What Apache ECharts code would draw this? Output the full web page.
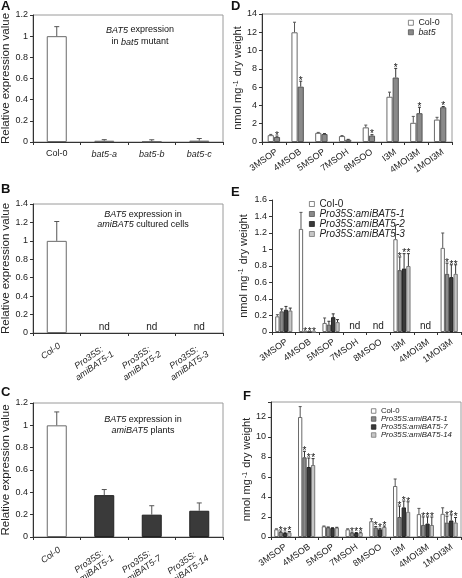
<!DOCTYPE html>
<html><head><meta charset="utf-8">
<script src="https://cdn.jsdelivr.net/npm/echarts@6/dist/echarts.min.js"></script>
<style>html,body{margin:0;padding:0;background:#fff}#c{width:462px;height:578px}</style>
</head><body><div id="c"></div>
<script>
// ---------- DATA ----------
const catsA = ['Col-0', 'bat5-a', 'bat5-b', 'bat5-c'];
const valsA = [1.0, 0.012, 0.006, 0.013];
const errA  = [0.09, 0.01, 0.015, 0.02];

const catsB = ['Col-0', 'Pro35S:\namiBAT5-1', 'Pro35S:\namiBAT5-2', 'Pro35S:\namiBAT5-3'];
const valsB = [1.0, null, null, null];
const errB  = [0.21, 0, 0, 0];
const ndB   = [0, 1, 1, 1];

const catsC = ['Col-0', 'Pro35S:\namiBAT5-1', 'Pro35S:\namiBAT5-7', 'Pro35S:\namiBAT5-14'];
const valsCcol = [1.0, null, null, null];
const valsCami = [null, 0.375, 0.20, 0.235];
const errC  = [0.12, 0.05, 0.08, 0.07];

const gluc = ['3MSOP', '4MSOB', '5MSOP', '7MSOH', '8MSOO', 'I3M', '4MOI3M', '1MOI3M'];

// D
const dCol0    = [0.75, 12.0, 1.0, 0.65, 1.6, 4.95, 2.1, 2.45];
const dCol0Err = [0.08, 1.1, 0.05, 0.05, 0.25, 0.5, 0.7, 0.25];
const dBat5    = [0.55, 6.05, 0.87, 0.25, 0.7, 7.05, 3.15, 3.8];
const dBat5Err = [0.1, 0.6, 0.05, 0.04, 0.1, 1.0, 0.65, 0.08];
const dBat5Star = [1, 1, 0, 0, 1, 1, 1, 1];

// E
const eCol0  = [0.19, 1.25, 0.11, null, null, 1.125, null, 1.02];
const eCol0E = [0.02, 0.2, 0.06, 0, 0, 0.17, 0, 0.18];
const eA1    = [0.25, 0, 0.09, null, null, 0.75, null, 0.705];
const eA1E   = [0.03, 0, 0.04, 0, 0, 0.16, 0, 0.13];
const eA2    = [0.27, 0, 0.18, null, null, 0.77, null, 0.665];
const eA2E   = [0.04, 0, 0.04, 0, 0, 0.18, 0, 0.15];
const eA3    = [0.26, 0, 0.12, null, null, 0.80, null, 0.705];
const eA3E   = [0.03, 0, 0.03, 0, 0, 0.15, 0, 0.11];
const eStar  = [0, 1, 0, 0, 0, 1, 0, 1];
const eNd    = [0, 0, 0, 1, 1, 0, 1, 0];

// F
const fCol0  = [0.77, 12.0, 1.07, 0.77, 1.58, 5.1, 2.29, 2.32];
const fCol0E = [0.05, 1.04, 0.03, 0.05, 0.24, 0.7, 0.57, 0.6];
const fA1    = [0.5, 7.97, 0.97, 0.44, 0.94, 2.0, 1.21, 1.45];
const fA1E   = [0.1, 0.6, 0.03, 0.05, 0.1, 1.1, 0.8, 0.64];
const fA7    = [0.4, 7.0, 0.9, 0.4, 0.77, 2.96, 1.34, 1.65];
const fA7E   = [0.08, 0.9, 0.03, 0.05, 0.1, 0.64, 0.67, 0.57];
const fA14   = [0.47, 7.2, 0.94, 0.44, 1.0, 2.52, 1.2, 1.45];
const fA14E  = [0.08, 0.64, 0.03, 0.05, 0.1, 1.0, 0.8, 0.5];
const fStar  = [1, 1, 0, 1, 1, 1, 1, 1];

// ---------- STYLE ----------
const FONT = '"Liberation Sans", Arial, Helvetica, sans-serif';
const C_WHITE = '#ffffff', C_GRAY = '#8a8a8a', C_DARK = '#3a3a3a', C_LIGHT = '#c6c6c6';
const B_WHITE = '#6a6a6a', B_GRAY = '#555', B_DARK = '#222', B_LIGHT = '#777';

const grids = [
  {left: 33, top: 15, width: 190, height: 127},
  {left: 33, top: 204, width: 190, height: 129},
  {left: 33, top: 403, width: 190, height: 134},
  {left: 262, top: 14, width: 190, height: 128},
  {left: 272, top: 200, width: 189, height: 132},
  {left: 271, top: 402, width: 190, height: 135}
].map((g, i) => Object.assign({show: i !== 4, borderColor: '#9a9a9a', borderWidth: 1,
  backgroundColor: 'transparent', outerBoundsMode: 'none', containLabel: false}, g));

function xAx(gi, data, rotate, italic, margin) {
  const lbl = {interval: 0, rotate: rotate, fontSize: 9, fontFamily: FONT, color: '#222',
    fontStyle: italic ? 'italic' : 'normal', margin: margin, lineHeight: 10};
  if (rotate) {
    lbl.verticalAlign = 'top';
    lbl.formatter = v => v.split('\n').map(s => '{a|' + s + '}').join('\n');
    lbl.rich = {a: {align: 'center', fontSize: 9, fontFamily: FONT, color: '#222',
      fontStyle: italic ? 'italic' : 'normal', lineHeight: 10}};
  }
  return {
    type: 'category', gridIndex: gi, data: data,
    axisLine: {lineStyle: {color: '#333', width: 1}},
    axisTick: {show: true, length: 3, lineStyle: {color: '#333'}},
    axisLabel: lbl
  };
}
function yAx(gi, max, interval, name, nameGap, nameSize, hideOdd) {
  return {
    type: 'value', gridIndex: gi, min: 0, max: max, interval: interval,
    splitLine: {show: false},
    axisLine: {show: true, lineStyle: {color: '#333', width: 1}},
    axisTick: {show: true, length: 3, lineStyle: {color: '#333'}},
    axisLabel: {fontSize: 9, fontFamily: FONT, color: '#222', margin: 5,
      formatter: hideOdd ? (v => (Math.abs(v / interval - Math.round(v / interval)) < 1e-6 ? String(v) : '')) : undefined},
    name: name, nameLocation: 'middle', nameGap: nameGap,
    nameTextStyle: {fontSize: nameSize, fontFamily: FONT, color: '#222',
      rich: {sup: {fontSize: 7, verticalAlign: 'top', fontFamily: FONT, color: '#222', padding: [0, 1, 4, 1]}}}
  };
}
const NMOL = 'nmol mg{sup|-1} dry weight';

function bars(gi, name, vals, fill, border, bw) {
  return {type: 'bar', name: name, xAxisIndex: gi, yAxisIndex: gi, data: vals, barWidth: bw,
    barGap: '0%', itemStyle: {color: fill, borderColor: border, borderWidth: 1},
    emphasis: {disabled: true}, z: 2};
}
function errs(gi, vals, errv, n, idx, bw, color, cap, stars, starSize) {
  return {type: 'custom', xAxisIndex: gi, yAxisIndex: gi, z: 3, silent: true,
    data: vals.map((v, i) => [i, v == null ? NaN : v, errv[i], stars ? stars[i] : 0]),
    renderItem: function (params, api) {
      const i = api.value(0), v = api.value(1), e = api.value(2), s = api.value(3);
      if (isNaN(v)) return null;
      const off = (idx - (n - 1) / 2) * bw;
      const p0 = api.coord([i, v]), p1 = api.coord([i, v + e]);
      const x = p0[0] + off;
      const ch = [];
      if (e > 0) {
        ch.push({type: 'line', shape: {x1: x, y1: p0[1], x2: x, y2: p1[1]}, style: {stroke: color, lineWidth: 1}});
        ch.push({type: 'line', shape: {x1: x - cap, y1: p1[1], x2: x + cap, y2: p1[1]}, style: {stroke: color, lineWidth: 1}});
      }
      if (s) ch.push({type: 'text', style: {text: '*', x: x, y: p1[1] + 5, align: 'center', verticalAlign: 'bottom',
        font: starSize + 'px ' + FONT, fill: '#111'}});
      return {type: 'group', children: ch};
    }};
}
function nd(gi, flags, size) {
  return {type: 'custom', xAxisIndex: gi, yAxisIndex: gi, z: 3, silent: true,
    data: flags.map((f, i) => [i, f]),
    renderItem: function (params, api) {
      if (!api.value(1)) return null;
      const c = api.coord([api.value(0), 0]);
      return {type: 'text', style: {text: 'nd', x: c[0], y: c[1] - 1, align: 'center', verticalAlign: 'bottom',
        font: size + 'px ' + FONT, fill: '#222'}};
    }};
}

const italicCats = arr => arr.map((c, i) => i === 0 ? c : {value: c, textStyle: {fontStyle: 'italic'}});

const xAxes = [
  xAx(0, italicCats(catsA), 0, false, 7),
  xAx(1, catsB, 35, true, 8),
  xAx(2, catsC, 35, true, 8),
  xAx(3, gluc, 35, false, 5),
  xAx(4, gluc, 35, false, 5),
  xAx(5, gluc, 35, false, 5)
];
const yAxes = [
  yAx(0, 1.2, 0.2, 'Relative expression value', 17, 11.5),
  yAx(1, 1.4, 0.2, 'Relative expression value', 17, 11.5),
  yAx(2, 1.2, 0.2, 'Relative expression value', 17, 11.5),
  yAx(3, 14, 2, NMOL, 15, 11),
  yAx(4, 1.6, 0.2, NMOL, 23, 11),
  yAx(5, 13.5, 2, NMOL, 17, 11, true)
];

const series = [
  bars(0, 'A-bars', valsA, C_WHITE, B_WHITE, 20),
  errs(0, valsA, errA, 1, 0, 20, '#555', 2.5),
  bars(1, 'B-bars', valsB, C_WHITE, B_WHITE, 20),
  errs(1, valsB, errB, 1, 0, 20, '#555', 2.5),
  nd(1, ndB, 10),
  {type: 'bar', name: 'C-bars', xAxisIndex: 2, yAxisIndex: 2, barWidth: 20, z: 2, emphasis: {disabled: true},
    data: valsCcol.map((v, i) => v != null
      ? {value: v, itemStyle: {color: C_WHITE, borderColor: B_WHITE, borderWidth: 1}}
      : {value: valsCami[i], itemStyle: {color: C_DARK, borderColor: B_DARK, borderWidth: 1}})},
  errs(2, valsCcol.map((v, i) => v != null ? v : valsCami[i]), errC, 1, 0, 20, '#555', 2.5),
  bars(3, 'Col-0', dCol0, C_WHITE, B_WHITE, 6.2),
  bars(3, 'bat5', dBat5, C_GRAY, B_GRAY, 6.2),
  errs(3, dCol0, dCol0Err, 2, 0, 6.2, '#555', 1.5),
  errs(3, dBat5, dBat5Err, 2, 1, 6.2, '#333', 1.5, dBat5Star, 10),
  bars(4, 'Col-0', eCol0, C_WHITE, B_WHITE, 4.3),
  bars(4, 'Pro35S:amiBAT5-1', eA1, C_GRAY, B_GRAY, 4.3),
  bars(4, 'Pro35S:amiBAT5-2', eA2, C_DARK, B_DARK, 4.3),
  bars(4, 'Pro35S:amiBAT5-3', eA3, C_LIGHT, B_LIGHT, 4.3),
  errs(4, eCol0, eCol0E, 4, 0, 4.3, '#555', 1.5),
  errs(4, eA1, eA1E, 4, 1, 4.3, '#333', 1.5, eStar, 10),
  errs(4, eA2, eA2E, 4, 2, 4.3, '#333', 1.5, eStar, 10),
  errs(4, eA3, eA3E, 4, 3, 4.3, '#333', 1.5, eStar, 10),
  nd(4, eNd, 10),
  bars(5, 'Col-0', fCol0, C_WHITE, B_WHITE, 4.3),
  bars(5, 'Pro35S:amiBAT5-1', fA1, C_GRAY, B_GRAY, 4.3),
  bars(5, 'Pro35S:amiBAT5-7', fA7, C_DARK, B_DARK, 4.3),
  bars(5, 'Pro35S:amiBAT5-14', fA14, C_LIGHT, B_LIGHT, 4.3),
  errs(5, fCol0, fCol0E, 4, 0, 4.3, '#555', 1.5),
  errs(5, fA1, fA1E, 4, 1, 4.3, '#333', 1.5, fStar, 10),
  errs(5, fA7, fA7E, 4, 2, 4.3, '#333', 1.5, fStar, 10),
  errs(5, fA14, fA14E, 4, 3, 4.3, '#333', 1.5, fStar, 10)
];

function legend(left, top, names, size, lh, icon) {
  return {left: left, top: top, orient: 'vertical', padding: 0, itemGap: 0, icon: 'rect',
    itemWidth: icon, itemHeight: icon, selectedMode: false,
    itemStyle: {borderWidth: 0.8},
    textStyle: {fontSize: size, fontFamily: FONT, color: '#222', lineHeight: lh},
    data: names.map(n => n === 'Col-0' ? n : {name: n, textStyle: {fontStyle: 'italic'}})};
}
const legends = [
  legend(408, 18, ['Col-0', 'bat5'], 8.9, 9.5, 5),
  legend(309, 199, ['Col-0', 'Pro35S:amiBAT5-1', 'Pro35S:amiBAT5-2', 'Pro35S:amiBAT5-3'], 10, 8.7, 5),
  legend(371, 407, ['Col-0', 'Pro35S:amiBAT5-1', 'Pro35S:amiBAT5-7', 'Pro35S:amiBAT5-14'], 7.8, 7.8, 4.5)
];

function txt(x, y, text, size, opts) {
  return Object.assign({type: 'text', x: x, y: y, style: Object.assign({text: text, fontSize: size, fontFamily: FONT,
    fill: '#111', align: 'left', verticalAlign: 'top', rich: {i: {fontStyle: 'italic', fontSize: size, fontFamily: FONT}}}, opts || {})});
}
const graphics = [
  txt(1, 0, 'A', 13, {fontWeight: 'bold'}),
  txt(1, 183, 'B', 13, {fontWeight: 'bold'}),
  txt(1, 386, 'C', 13, {fontWeight: 'bold'}),
  txt(231, 0, 'D', 13, {fontWeight: 'bold'}),
  txt(231, 186, 'E', 13, {fontWeight: 'bold'}),
  txt(243, 390, 'F', 13, {fontWeight: 'bold'}),
  txt(140, 24, '{i|BAT5} expression\nin {i|bat5} mutant', 9, {align: 'center', lineHeight: 12}),
  txt(143, 209, '{i|BAT5} expression in\n{i|amiBAT5} cultured cells', 9, {align: 'center', lineHeight: 10.5}),
  txt(143, 414, '{i|BAT5} expression in\n{i|amiBAT5} plants', 9, {align: 'center', lineHeight: 11})
];

const chart = echarts.init(document.getElementById('c'), null, {renderer: 'canvas'});
chart.setOption({
  animation: false,
  backgroundColor: '#fff',
  grid: grids,
  xAxis: xAxes,
  yAxis: yAxes,
  legend: legends,
  series: series,
  graphic: graphics
});
</script></body></html>
